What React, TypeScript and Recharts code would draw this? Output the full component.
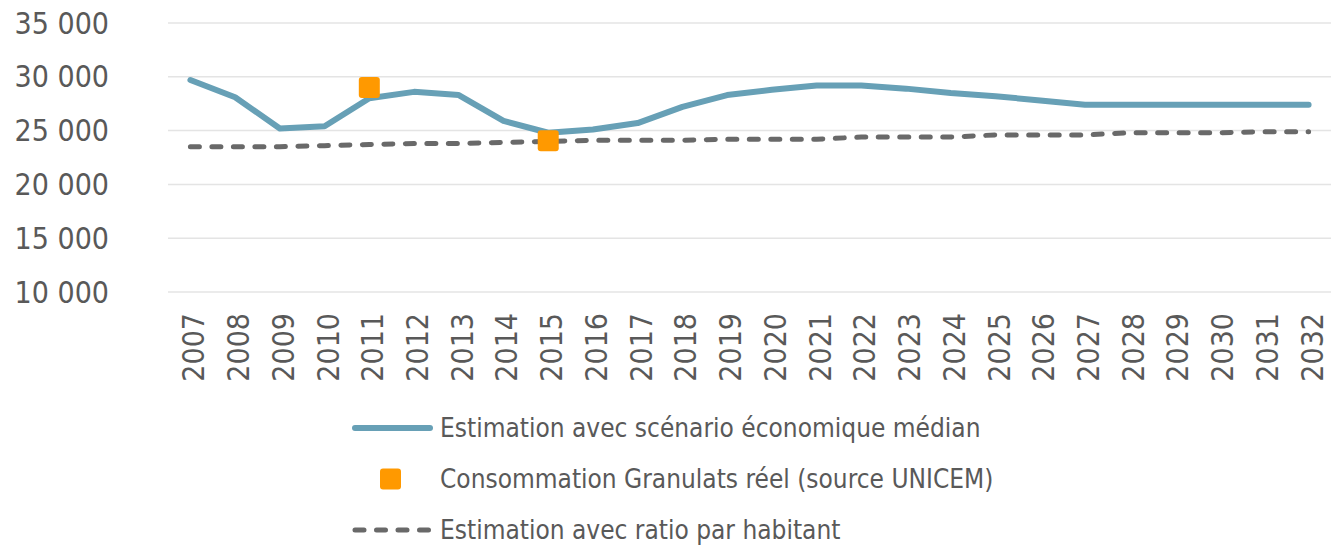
import React from 'react';
import { ComposedChart, Line, XAxis, YAxis, CartesianGrid, Legend } from 'recharts';

const years = [
  '2007', '2008', '2009', '2010', '2011', '2012', '2013', '2014', '2015', '2016', '2017', '2018', '2019',
  '2020', '2021', '2022', '2023', '2024', '2025', '2026', '2027', '2028', '2029', '2030', '2031', '2032',
];

const median = [
  29700, 28100, 25200, 25400, 28000, 28600, 28300, 25900, 24800, 25100, 25700, 27200, 28300,
  28800, 29200, 29200, 28900, 28500, 28200, 27800, 27400, 27400, 27400, 27400, 27400, 27400,
];

const ratio = [
  23500, 23500, 23500, 23600, 23700, 23800, 23800, 23900, 24000, 24100, 24100, 24100, 24200,
  24200, 24200, 24400, 24400, 24400, 24600, 24600, 24600, 24800, 24800, 24800, 24900, 24900,
];

// real values only known for a couple of years
const reel: Array<number | null> = [
  null, null, null, null, 29000, null, null, null, 24050, null, null, null, null,
  null, null, null, null, null, null, null, null, null, null, null, null, null,
];

const yTicks = [10000, 15000, 20000, 25000, 30000, 35000];

const names = {
  median: 'Estimation avec scénario économique médian',
  reel: 'Consommation Granulats réel (source UNICEM)',
  ratio: 'Estimation avec ratio par habitant',
};

const legendOrder = ['median', 'reel', 'ratio'];

const data = years.map((year, i) => ({
  year,
  median: median[i],
  ratio: ratio[i],
  reel: reel[i],
}));

const FONT = "'DejaVu Sans Condensed', 'DejaVu Sans', sans-serif";
const TEXT = '#595959';
const BLUE = '#67a0b6';
const GREY = '#696969';
const ORANGE = '#ff9900';

const fmt = (v: number) => String(v).replace(/\B(?=(\d{3})+(?!\d))/g, ' ');

const YearTick = (props: any) => {
  const { x, y, payload } = props;
  return (
    <text
      transform={`translate(${x},${y}) rotate(-90)`}
      textAnchor="end"
      dy={14}
      fill={TEXT}
      fontSize={30}
      fontFamily={FONT}
      fontStretch="condensed"
    >
      {payload.value}
    </text>
  );
};

const SquareDot = (props: any) => {
  const { cx, cy, value, index } = props;
  if (value == null || cx == null || cy == null) return <g key={`sq-${index}`} />;
  return <rect key={`sq-${index}`} x={cx - 10.5} y={cy - 10.5} width={21} height={21} rx={3} fill={ORANGE} />;
};

const renderLegend = (props: any) => {
  const items = [...(props.payload || [])].sort(
    (a: any, b: any) => legendOrder.indexOf(a.dataKey) - legendOrder.indexOf(b.dataKey)
  );
  return (
    <svg width={1331} height={146} style={{ display: 'block' }}>
      {items.map((entry: any, i: number) => {
        const cy = 28 + i * 51;
        let icon;
        if (entry.dataKey === 'reel') {
          icon = <rect x={380} y={cy - 10.5} width={21} height={21} rx={3} fill={ORANGE} />;
        } else if (entry.dataKey === 'ratio') {
          icon = (
            <line x1={355} x2={430} y1={cy} y2={cy} stroke={GREY} strokeWidth={5}
              strokeDasharray="9 12.5" strokeLinecap="round" />
          );
        } else {
          icon = <line x1={355} x2={430} y1={cy} y2={cy} stroke={BLUE} strokeWidth={6} strokeLinecap="round" />;
        }
        return (
          <g key={entry.dataKey}>
            {icon}
            <text x={440} y={cy} dy="0.36em" fill={TEXT} fontSize={26} fontFamily={FONT} fontStretch="condensed">
              {entry.value}
            </text>
          </g>
        );
      })}
    </svg>
  );
};

export default function App() {
  return (
    <div style={{ position: 'absolute', left: 0, top: 0, background: '#fff' }}>
      <ComposedChart width={1331} height={546} data={data} margin={{ top: 23, right: 0, left: 0, bottom: 164 }}>
        <CartesianGrid vertical={false} stroke="#e4e4e4" strokeWidth={1.5} />
        <XAxis
          dataKey="year"
          interval={0}
          height={90}
          padding={{ left: 22.4, right: 22.4 }}
          axisLine={false}
          tickLine={false}
          tickSize={0}
          tickMargin={21}
          tick={<YearTick />}
        />
        <YAxis
          domain={[10000, 35000]}
          ticks={yTicks}
          width={168}
          axisLine={false}
          tickLine={false}
          tickSize={0}
          tickMargin={59}
          tickFormatter={fmt}
          tick={{ fill: TEXT, fontSize: 30, fontFamily: FONT, fontStretch: 'condensed' }}
        />
        <Line
          dataKey="median"
          name={names.median}
          stroke={BLUE}
          strokeWidth={6}
          strokeLinecap="round"
          strokeLinejoin="round"
          dot={false}
          activeDot={false}
          isAnimationActive={false}
        />
        <Line
          dataKey="ratio"
          name={names.ratio}
          stroke={GREY}
          strokeWidth={5}
          strokeDasharray="9 12.5"
          strokeLinecap="round"
          dot={false}
          activeDot={false}
          isAnimationActive={false}
        />
        <Line
          dataKey="reel"
          name={names.reel}
          stroke="none"
          legendType="square"
          dot={<SquareDot />}
          activeDot={false}
          connectNulls={false}
          isAnimationActive={false}
        />
        <Legend
          layout="horizontal"
          verticalAlign="middle"
          align="center"
          wrapperStyle={{ left: 0, top: 400, width: 1331, height: 146 }}
          content={renderLegend}
        />
      </ComposedChart>
    </div>
  );
}
